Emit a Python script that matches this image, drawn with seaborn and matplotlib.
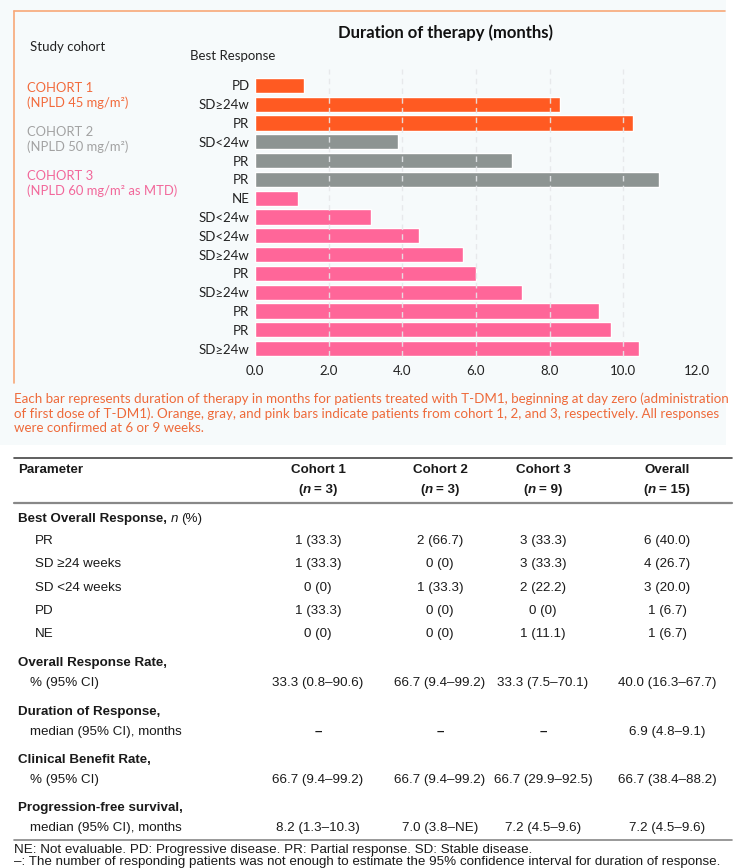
import matplotlib
matplotlib.use("Agg")
import matplotlib.pyplot as plt
from matplotlib.patches import Rectangle
from matplotlib.lines import Line2D
import pandas as pd
import seaborn as sns

# Bar chart data (top to bottom)
responses = ["PD", "SD≥24w", "PR", "SD<24w", "PR", "PR", "NE", "SD<24w", "SD<24w",
             "SD≥24w", "PR", "SD≥24w", "PR", "PR", "SD≥24w"]
durations = [1.33, 8.27, 10.27, 3.89, 6.97, 10.96, 1.16, 3.15, 4.45,
             5.66, 5.99, 7.25, 9.34, 9.67, 10.43]
cohorts = ["Cohort 1"] * 3 + ["Cohort 2"] * 3 + ["Cohort 3"] * 9
xticks = [0, 2, 4, 6, 8, 10, 12]

cohort_titles = ["COHORT 1", "COHORT 2", "COHORT 3"]
cohort_doses = ["(NPLD 45 mg/m²)", "(NPLD 50 mg/m²)", "(NPLD 60 mg/m² as MTD)"]

caption = [
    "Each bar represents duration of therapy in months for patients treated with T-DM1, beginning at day zero (administration",
    "of first dose of T-DM1). Orange, gray, and pink bars indicate patients from cohort 1, 2, and 3, respectively. All responses",
    "were confirmed at 6 or 9 weeks.",
]

# Table data
col_names = ["Cohort 1", "Cohort 2", "Cohort 3", "Overall"]
col_n = ["3", "3", "9", "15"]
bor_rows = ["PR", "SD ≥24 weeks", "SD <24 weeks", "PD", "NE"]
bor_vals = [
    ["1 (33.3)", "2 (66.7)", "3 (33.3)", "6 (40.0)"],
    ["1 (33.3)", "0 (0)", "3 (33.3)", "4 (26.7)"],
    ["0 (0)", "1 (33.3)", "2 (22.2)", "3 (20.0)"],
    ["1 (33.3)", "0 (0)", "0 (0)", "1 (6.7)"],
    ["0 (0)", "0 (0)", "1 (11.1)", "1 (6.7)"],
]
group_titles = ["Overall Response Rate,", "Duration of Response,",
                "Clinical Benefit Rate,", "Progression-free survival,"]
group_subs = ["% (95% CI)", "median (95% CI), months", "% (95% CI)", "median (95% CI), months"]
group_vals = [
    ["33.3 (0.8–90.6)", "66.7 (9.4–99.2)", "33.3 (7.5–70.1)", "40.0 (16.3–67.7)"],
    ["–", "–", "–", "6.9 (4.8–9.1)"],
    ["66.7 (9.4–99.2)", "66.7 (9.4–99.2)", "66.7 (29.9–92.5)", "66.7 (38.4–88.2)"],
    ["8.2 (1.3–10.3)", "7.0 (3.8–NE)", "7.2 (4.5–9.6)", "7.2 (4.5–9.6)"],
]
footnotes = [
    "NE: Not evaluable. PD: Progressive disease. PR: Partial response. SD: Stable disease.",
    "–: The number of responding patients was not enough to estimate the 95% confidence interval for duration of response.",
]

ORANGE, GRAY, PINK = "#FF5A22", "#8D9492", "#FF6699"
W, H = 740, 868

sns.set_style("white")
plt.rcParams["font.family"] = ["Lato", "DejaVu Sans"]

fig = plt.figure(figsize=(W / 100, H / 100), dpi=100)
fig.patch.set_facecolor("white")


def fx(x):
    return x / W


def fy(y):
    return 1 - y / H


def ptext(x, y, s, **kw):
    kw.setdefault("va", "center")
    return fig.text(fx(x), fy(y), s, **kw)


# light panel and orange frame
fig.patches.append(Rectangle((0, fy(445)), fx(726), 445 / H, transform=fig.transFigure,
                             facecolor="#F6FAFB", edgecolor="none", zorder=-10))
fig.lines.append(Line2D([fx(14), fx(725)], [fy(11), fy(11)], transform=fig.transFigure,
                        color="#F8A878", lw=1.2, zorder=-5))
fig.lines.append(Line2D([fx(14), fx(14)], [fy(11), fy(383)], transform=fig.transFigure,
                        color="#F8A878", lw=1.2, zorder=-5))

# bar chart
df = pd.DataFrame({"row": [str(i) for i in range(len(durations))],
                   "duration": durations, "cohort": cohorts})
ax = fig.add_axes([fx(255), fy(358), fx(697) - fx(255), (358 - 76) / H])
ax.set_zorder(2)
sns.barplot(data=df, x="duration", y="row", hue="cohort", orient="h", dodge=False,
            palette={"Cohort 1": ORANGE, "Cohort 2": GRAY, "Cohort 3": PINK},
            width=0.8, saturation=1, legend=False, ax=ax)
for p in ax.patches:
    p.set_zorder(2)
ax.set_facecolor("none")
ax.vlines(xticks[1:-1], 14.4, -0.85, colors="#E6E8EA", linestyles=(0, (4, 3)),
          lw=1, zorder=5, alpha=0.9, clip_on=False)
ax.set_xlim(0, 12)
ax.set_ylim(14.5, -0.5)
ax.set_xticks(xticks)
ax.set_xticklabels([f"{t:.1f}" for t in xticks])
ax.set_yticks(range(len(responses)))
ax.set_yticklabels(responses)
ax.tick_params(length=0, labelsize=9.5, colors="#222222")
ax.tick_params(axis="y", pad=4)
ax.tick_params(axis="x", pad=5)
ax.set_xlabel("")
ax.set_ylabel("")
sns.despine(ax=ax, left=True, bottom=True)

ptext(445, 33, "Duration of therapy (months)", ha="center", fontsize=12,
      fontweight="bold", color="#111111")
ptext(30, 47, "Study cohort", fontsize=9.5, color="#222222")
ptext(190, 56, "Best Response", fontsize=9.5, color="#222222")

text_cols = ["#F26A3B", "#A2A2A2", "#F2679A"]
for i, (t, d) in enumerate(zip(cohort_titles, cohort_doses)):
    y0 = 88 + i * 44
    ptext(27, y0, t, fontsize=9.4, color=text_cols[i])
    ptext(27, y0 + 15, d, fontsize=9.4, color=text_cols[i])

for i, line in enumerate(caption):
    ptext(14, 399 + i * 14.5, line, fontsize=9.6, color="#EE6A3A")

# table
plt.rcParams["font.family"] = ["Liberation Sans", "DejaVu Sans"]
renderer = fig.canvas.get_renderer()
TXT = "#1A1A1A"
FS = 9.6


def rich(x, y, parts, ha="left"):
    objs = []
    cur = x
    for s, weight, style, gap in parts:
        cur += gap
        t = ptext(cur, y, s, fontsize=FS, fontweight=weight, fontstyle=style,
                  color=TXT, ha="left")
        cur += t.get_window_extent(renderer).width
        objs.append(t)
    if ha == "center":
        shift = (cur - x) / 2
        for t in objs:
            px, py = t.get_position()
            t.set_position((px - fx(shift), py))


cx = [318, 440, 543, 667]

fig.lines.append(Line2D([fx(14), fx(732)], [fy(458), fy(458)], transform=fig.transFigure,
                        color="#444444", lw=1.2))
fig.lines.append(Line2D([fx(14), fx(732)], [fy(503), fy(503)], transform=fig.transFigure,
                        color="#888888", lw=1.6))
fig.lines.append(Line2D([fx(14), fx(732)], [fy(840), fy(840)], transform=fig.transFigure,
                        color="#888888", lw=1.2))

ptext(18, 470, "Parameter", fontsize=FS, fontweight="bold", color=TXT)
for c, name, n in zip(cx, col_names, col_n):
    ptext(c, 470, name, fontsize=FS, fontweight="bold", color=TXT, ha="center")
    rich(c, 490, [("(", "bold", "normal", 0), ("n", "bold", "italic", 0),
                  ("= " + n + ")", "bold", "normal", 3)], ha="center")

rich(18, 519, [("Best Overall Response,", "bold", "normal", 0),
               ("n", "normal", "italic", 3.5), ("(%)", "normal", "normal", 3.5)])
for i, (lab, vals) in enumerate(zip(bor_rows, bor_vals)):
    y0 = 541 + i * 23.3
    ptext(35, y0, lab, fontsize=FS, color=TXT)
    for c, v in zip(cx, vals):
        ptext(c, y0, v, fontsize=FS, color=TXT, ha="center")

for i, (tt, sub, vals) in enumerate(zip(group_titles, group_subs, group_vals)):
    y0 = 663 + i * 48.5
    ptext(18, y0, tt, fontsize=FS, fontweight="bold", color=TXT)
    ptext(30, y0 + 20, sub, fontsize=FS, color=TXT)
    for c, v in zip(cx, vals):
        ptext(c, y0 + 20, v, fontsize=FS, color=TXT, ha="center",
              fontweight="bold" if v == "–" else "normal")

for i, fn in enumerate(footnotes):
    ptext(14, 850 + i * 12.5, fn, fontsize=9.6, color=TXT)

fig.savefig("out.png", dpi=100)
